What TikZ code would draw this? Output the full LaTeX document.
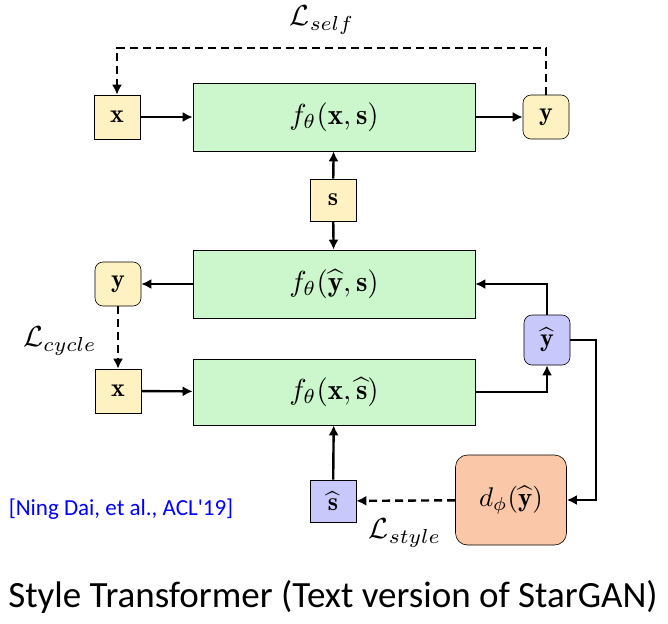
\documentclass[tikz,border=0pt]{standalone}
\usepackage{amsmath}
\usepackage{fontspec}
\newfontfamily\carlitofont{Carlito}
\usetikzlibrary{arrows.meta}
\definecolor{yel}{HTML}{FFF2C2}
\definecolor{grn}{HTML}{CCF7CC}
\definecolor{pur}{HTML}{C8C8FA}
\definecolor{org}{HTML}{FAC8A8}
\newcommand\mysc[2]{\scalebox{#1}{#2}}
\begin{document}
\begin{tikzpicture}[x=1pt,y=-1pt,
 box/.style={draw,line width=0.6pt,inner sep=0,minimum width=46pt,minimum height=44pt},
 fbox/.style={draw,line width=0.6pt,fill=grn,minimum width=282pt,minimum height=68pt},
 arr/.style={line width=2.4pt,-{Latex[length=10pt,width=10pt]}},
 dsh/.style={arr,dash pattern=on 8pt off 5pt}]
\useasboundingbox (0,0) rectangle (668,623);
\node[box,fill=yel] (x1) at (117,117) {\mysc{2.6}{$\mathbf{x}$}};
\node[fbox] (f1) at (334,117) {\mysc{2.9}{$f_\theta(\mathbf{x},\mathbf{s})$}};
\node[box,fill=yel,rounded corners=8pt] (y1) at (546,117) {\mysc{2.6}{$\mathbf{y}$}};
\node[box,fill=yel,minimum height=42pt] (s) at (333,200) {\mysc{2.6}{$\mathbf{s}$}};
\node[fbox] (f2) at (334,284) {\mysc{2.9}{$f_\theta(\widehat{\mathbf{y}},\mathbf{s})$}};
\node[box,fill=yel,rounded corners=8pt] (y2) at (118,284) {\mysc{2.6}{$\mathbf{y}$}};
\node[box,fill=yel] (x2) at (118,391) {\mysc{2.6}{$\mathbf{x}$}};
\node[fbox,minimum height=66pt] (f3) at (334,392) {\mysc{2.9}{$f_\theta(\mathbf{x},\widehat{\mathbf{s}})$}};
\node[box,fill=pur,rounded corners=8pt,minimum height=50pt] (yh) at (547,340) {\mysc{2.6}{$\widehat{\mathbf{y}}$}};
\node[box,fill=pur,minimum height=42pt] (sh) at (333,501) {\mysc{2.6}{$\widehat{\mathbf{s}}$}};
\node[draw,line width=0.6pt,fill=org,rounded corners=12pt,minimum width=111pt,minimum height=90pt] (d) at (511,500) {\mysc{2.7}{$d_\phi(\widehat{\mathbf{y}})$}};
\coordinate (c1) at (546,48); \coordinate (c2) at (117,48);
\coordinate (c3) at (547,392); \coordinate (c4) at (547,284);
\coordinate (c5) at (596,340); \coordinate (c6) at (596,500);
\draw[arr] (x1) -- (f1);
\draw[arr] (f1) -- (y1);
\draw[dsh] (y1.north) -- (c1) -- (c2) -- (x1.north);
\draw[arr] (s) -- (f1);
\draw[arr] (s) -- (f2);
\draw[arr] (f2) -- (y2);
\draw[dsh] (y2) -- (x2);
\draw[arr] (x2) -- (f3);
\draw[arr] (f3.east |- c3) -- (c3) -- (yh.south);
\draw[arr] (yh.north) -- (c4) -- (f2.east);
\draw[arr] (yh.east) -- (c5) -- (c6) -- (d.east);
\draw[dsh] (d) -- (sh);
\draw[arr] (sh) -- (f3);
\node (ls) at (322,20) {\mysc{2.9}{$\mathcal{L}_{self}$}};
\node (lc) at (60,341) {\mysc{2.9}{$\mathcal{L}_{cycle}$}};
\node (lst) at (405,533) {\mysc{2.9}{$\mathcal{L}_{style}$}};
\node[font=\carlitofont\fontsize{23}{25}\selectfont,text=blue] (cite) at (121,509) {[Ning Dai, et al., ACL'19]};
\node[font=\carlitofont\fontsize{37}{40}\selectfont] (cap) at (333,597) {Style Transformer (Text version of StarGAN)};
\end{tikzpicture}
\end{document}
